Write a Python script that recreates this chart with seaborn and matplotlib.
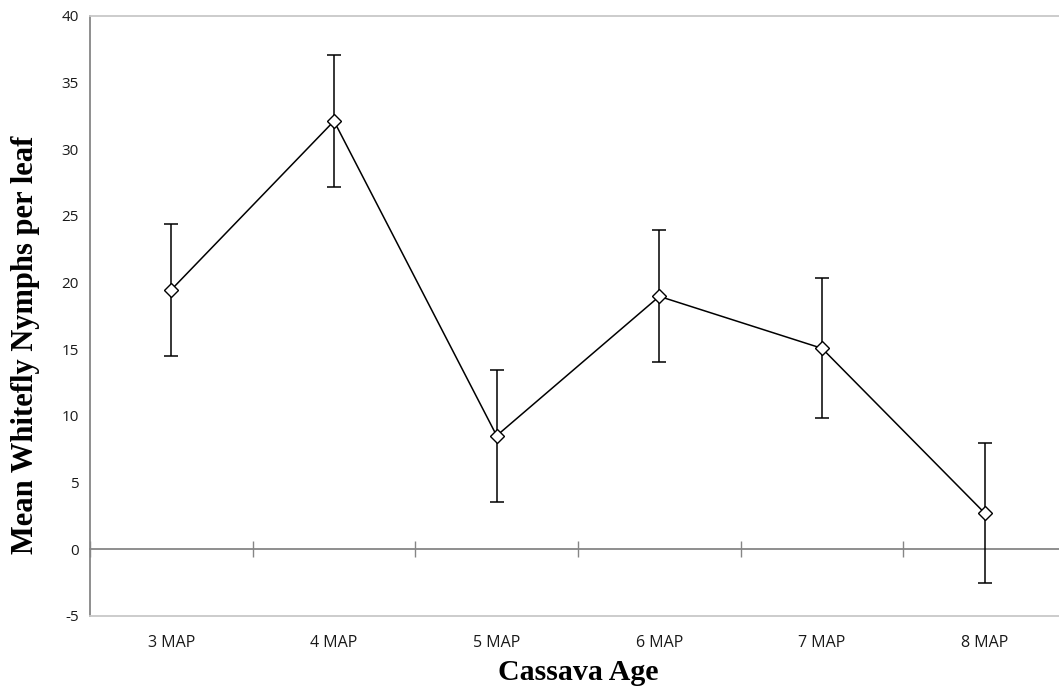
import matplotlib
matplotlib.use("Agg")
import matplotlib.pyplot as plt
import seaborn as sns
import numpy as np
import pandas as pd

# Mean whitefly nymph counts by cassava age (months after planting)
categories = ["3 MAP", "4 MAP", "5 MAP", "6 MAP", "7 MAP", "8 MAP"]
mean_nymphs = [19.45, 32.1, 8.5, 18.95, 15.05, 2.7]
error_margin = [4.95, 4.95, 4.95, 4.95, 5.25, 5.25]
y_ticks = [-5, 0, 5, 10, 15, 20, 25, 30, 35, 40]

df = pd.DataFrame({"age": categories, "mean": mean_nymphs, "err": error_margin})
pos = np.arange(len(categories))

sns.set_style("white")
plt.rcParams["font.family"] = ["Open Sans", "DejaVu Sans"]

W, H = 1059, 694
fig = plt.figure(figsize=(W / 100, H / 100), dpi=100)
ax = fig.add_axes([90 / W, (H - 615.7) / H, (1066 - 90) / W, 600 / H])

# error bars first so the markers sit on top
ax.errorbar(pos, df["mean"], yerr=df["err"], fmt="none", ecolor="black",
            elinewidth=1.1, capsize=4.8, capthick=1.1, zorder=3)
sns.lineplot(x=pos, y=df["mean"], ax=ax, color="black", linewidth=1.1,
             marker="D", markersize=6.8, markerfacecolor="white",
             markeredgecolor="black", markeredgewidth=1.0, zorder=4)

ax.set_xlim(-0.5, len(categories) - 0.5)
ax.set_ylim(-5, 40)
ax.set_yticks(y_ticks)
ax.set_yticklabels([str(t) for t in y_ticks], fontsize=11, color="#1a1a1a")
ax.set_xticks(pos)
ax.set_xticklabels(categories, fontsize=11.5, color="#1a1a1a")
ax.tick_params(axis="x", length=0, pad=14)
ax.tick_params(axis="y", direction="inout", length=8, width=1, color="#868686", pad=4)

for side in ["top", "bottom"]:
    ax.spines[side].set_color("#c8c8c8")
    ax.spines[side].set_linewidth(1.3)
ax.spines["right"].set_visible(False)
ax.spines["left"].set_color("#868686")
ax.spines["left"].set_linewidth(1.3)

# category axis line at zero with tick marks between categories
zero_frac = (0 - (-5)) / 45
sec = ax.secondary_xaxis(zero_frac)
sec.set_xticks(np.arange(len(categories) + 1) - 0.5)
sec.set_xticklabels([])
sec.tick_params(direction="inout", length=11, width=1, color="#868686")
sec.spines["bottom"].set_color("#868686")
sec.spines["bottom"].set_linewidth(1.3)
for s in ["top", "left", "right"]:
    sec.spines[s].set_visible(False)

ax.set_ylabel("Mean Whitefly Nymphs per leaf", family="Liberation Serif",
              fontweight="bold", fontsize=22, color="black")
ax.set_xlabel("Cassava Age", family="Liberation Serif", fontweight="bold",
              fontsize=21.5, color="black")
ax.xaxis.set_label_coords((578.7 - 90) / (1066 - 90), (615.7 - 659) / 600)
ax.yaxis.set_label_coords((40 - 90) / (1066 - 90), (615.7 - 345) / 600)

fig.savefig("out.png", dpi=100, facecolor="white")
